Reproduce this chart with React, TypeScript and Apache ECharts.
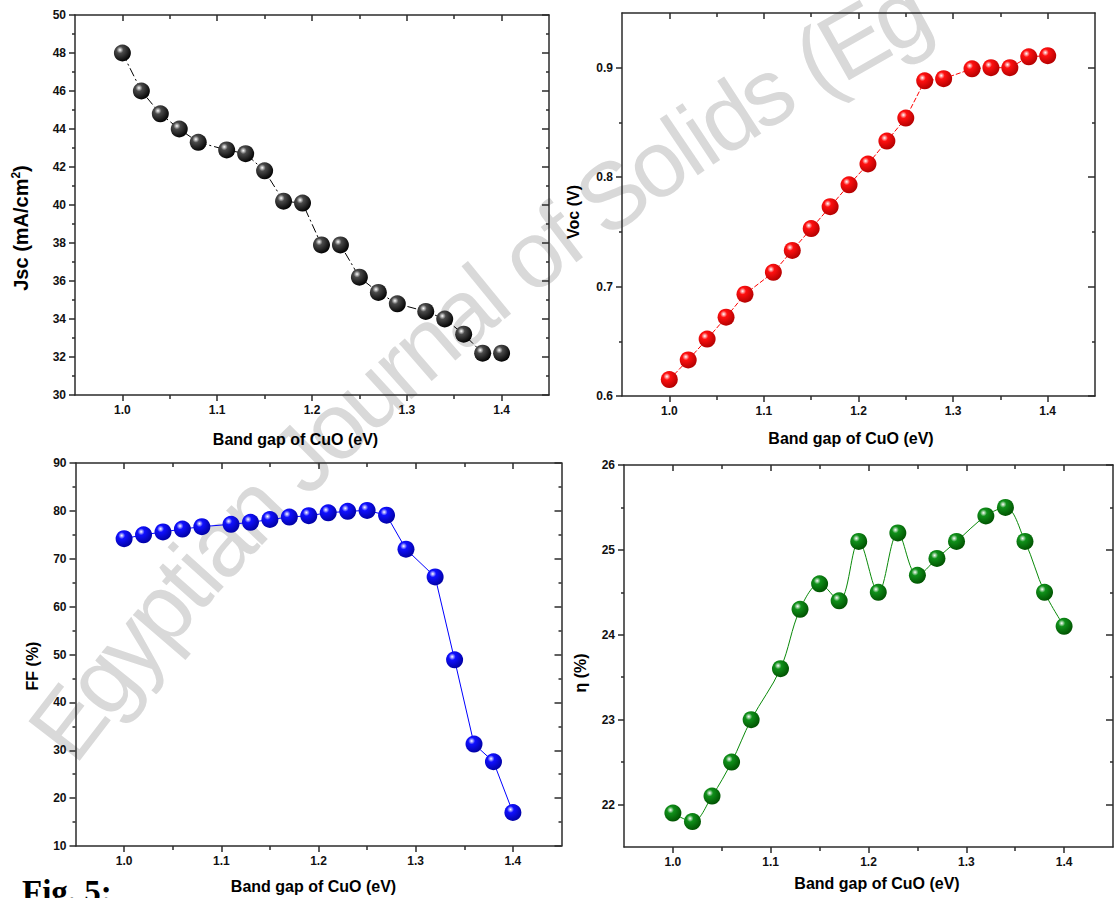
import React, { useEffect, useRef } from "react";
import * as echarts from "echarts";

// ---- data ----
const BAND_GAP = [1.0, 1.02, 1.04, 1.06, 1.08, 1.11, 1.13, 1.15, 1.17, 1.19, 1.21, 1.23, 1.25, 1.27, 1.29, 1.32, 1.34, 1.36, 1.38, 1.4];
const JSC = [48.0, 46.0, 44.8, 44.0, 43.3, 42.9, 42.7, 41.8, 40.2, 40.1, 37.9, 37.9, 36.2, 35.4, 34.8, 34.4, 34.0, 33.2, 32.2, 32.2];
const VOC = [0.615, 0.633, 0.652, 0.672, 0.693, 0.713, 0.733, 0.753, 0.773, 0.793, 0.812, 0.833, 0.854, 0.888, 0.89, 0.899, 0.9, 0.9, 0.91, 0.911];
const FF = [74.2, 75.0, 75.6, 76.2, 76.7, 77.2, 77.6, 78.2, 78.7, 79.0, 79.6, 79.9, 80.1, 79.1, 72.0, 66.2, 48.9, 31.3, 27.6, 17.0];
const ETA = [21.9, 21.8, 22.1, 22.5, 23.0, 23.6, 24.3, 24.6, 24.4, 25.1, 24.5, 25.2, 24.7, 24.9, 25.1, 25.4, 25.5, 25.1, 24.5, 24.1];

const X_MAJOR = [1.0, 1.1, 1.2, 1.3, 1.4];
const X_MINOR = [1.05, 1.15, 1.25, 1.35];
const JSC_MAJOR = [30, 32, 34, 36, 38, 40, 42, 44, 46, 48, 50];
const JSC_MINOR = [31, 33, 35, 37, 39, 41, 43, 45, 47, 49];
const VOC_MAJOR = [0.6, 0.7, 0.8, 0.9];
const VOC_MINOR = [0.65, 0.75, 0.85];
const FF_MAJOR = [10, 20, 30, 40, 50, 60, 70, 80, 90];
const FF_MINOR = [15, 25, 35, 45, 55, 65, 75, 85];
const ETA_MAJOR = [22, 23, 24, 25, 26];
const ETA_MINOR = [22.5, 23.5, 24.5, 25.5];

const X_NAME = "Band gap of CuO (eV)";
const WATERMARK = "Egyptian Journal of Solids (Eg";
const FIG_LABEL = "Fig. 5:";

const FONT = "'Liberation Sans', Arial, Helvetica, sans-serif";
const AXIS_COLOR = "#2b2b2b";

type Panel = {
  grid: { left: number; top: number; width: number; height: number };
  yMin: number; yMax: number;
  yMajor: number[]; yMinor: number[];
  yFmt: (v: number) => string;
  yName: string; yNameSize: number; yNameGap: number; yNamePad: number[];
  xNameGap: number; xNamePad: number[];
  values: number[];
  lineColor: string;
  stops: string[];
  lineType: any;
  smooth: number | boolean;
};

const panels: Panel[] = [
  {
    grid: { left: 75, top: 15, width: 474, height: 380 },
    yMin: 30, yMax: 50, yMajor: JSC_MAJOR, yMinor: JSC_MINOR, yFmt: (v) => String(Math.round(v)),
    yName: "Jsc (mA/cm{sup|2})", yNameSize: 20, yNameGap: 43, yNamePad: [0, 46, 0, 0],
    xNameGap: 36, xNamePad: [0, 33, 0, 0],
    values: JSC, lineColor: "#000", stops: ["#ffffff", "#4a4a4a", "#000000"], lineType: [9, 3, 2, 3], smooth: false,
  },
  {
    grid: { left: 622, top: 13, width: 473, height: 383 },
    yMin: 0.6, yMax: 0.95, yMajor: VOC_MAJOR, yMinor: VOC_MINOR, yFmt: (v) => v.toFixed(1),
    yName: "Voc (V)", yNameSize: 16, yNameGap: 41, yNamePad: [0, 15, 0, 0],
    xNameGap: 34, xNamePad: [0, 15, 0, 0],
    values: VOC, lineColor: "#ff0000", stops: ["#ffffff", "#ff1010", "#b00000"], lineType: [5, 2], smooth: false,
  },
  {
    grid: { left: 75.5, top: 463, width: 486, height: 383 },
    yMin: 10, yMax: 90, yMajor: FF_MAJOR, yMinor: FF_MINOR, yFmt: (v) => String(Math.round(v)),
    yName: "FF (%)", yNameSize: 16, yNameGap: 35, yNamePad: [0, 23, 0, 0],
    xNameGap: 32, xNamePad: [0, 10, 0, 0],
    values: FF, lineColor: "#0000ff", stops: ["#ffffff", "#1010ff", "#0000a0"], lineType: "solid", smooth: false,
  },
  {
    grid: { left: 624, top: 465, width: 489, height: 382 },
    yMin: 21.5, yMax: 26, yMajor: ETA_MAJOR, yMinor: ETA_MINOR, yFmt: (v) => String(Math.round(v)),
    yName: "η (%)", yNameSize: 16, yNameGap: 36, yNamePad: [0, 34, 0, 0],
    xNameGap: 28, xNamePad: [0, 0, 0, 17],
    values: ETA, lineColor: "#0a8a0a", stops: ["#ffffff", "#10901a", "#005000"], lineType: "solid", smooth: 0.35,
  },
];

const lineStyle = { color: AXIS_COLOR, width: 1.5 };

function buildAxes(p: Panel, gi: number) {
  const xAxes: any[] = [];
  const yAxes: any[] = [];
  const xBase = { gridIndex: gi, type: "value", min: 0.95, max: 1.45, splitLine: { show: false } };
  const yBase = { gridIndex: gi, type: "value", min: p.yMin, max: p.yMax, splitLine: { show: false } };
  xAxes.push({
    ...xBase, position: "bottom",
    axisLine: { show: true, onZero: false, lineStyle },
    axisTick: { show: true, inside: false, length: 6, customValues: X_MAJOR, lineStyle },
    axisLabel: { show: true, customValues: X_MAJOR, formatter: (v: number) => v.toFixed(1), margin: 9, fontSize: 12, fontWeight: "bold", color: "#111", fontFamily: FONT },
    name: X_NAME, nameLocation: "middle", nameGap: p.xNameGap,
    nameTextStyle: { fontSize: 16, fontWeight: "bold", color: "#000", fontFamily: FONT, padding: p.xNamePad },
  });
  xAxes.push({
    ...xBase, position: "bottom",
    axisLine: { show: false, onZero: false },
    axisTick: { show: true, inside: false, length: 4, customValues: X_MINOR, lineStyle },
    axisLabel: { show: false },
  });
  xAxes.push({
    ...xBase, position: "top",
    axisLine: { show: true, onZero: false, lineStyle },
    axisTick: { show: true, inside: true, length: 6, customValues: X_MAJOR, lineStyle },
    axisLabel: { show: false },
  });
  xAxes.push({
    ...xBase, position: "top",
    axisLine: { show: false, onZero: false },
    axisTick: { show: true, inside: true, length: 4, customValues: X_MINOR, lineStyle },
    axisLabel: { show: false },
  });
  yAxes.push({
    ...yBase, position: "left",
    axisLine: { show: true, onZero: false, lineStyle },
    axisTick: { show: true, inside: false, length: 6, customValues: p.yMajor, lineStyle },
    axisLabel: { show: true, customValues: p.yMajor, formatter: p.yFmt, margin: 9, fontSize: 12, fontWeight: "bold", color: "#111", fontFamily: FONT },
    name: p.yName, nameLocation: "middle", nameGap: p.yNameGap,
    nameTextStyle: {
      fontSize: p.yNameSize, fontWeight: "bold", color: "#000", fontFamily: FONT, padding: p.yNamePad,
      rich: { sup: { fontSize: 12, fontWeight: "bold", color: "#000", fontFamily: FONT, verticalAlign: "top", padding: [0, 0, 10, 0] } },
    },
  });
  yAxes.push({
    ...yBase, position: "left",
    axisLine: { show: false, onZero: false },
    axisTick: { show: true, inside: false, length: 3, customValues: p.yMinor, lineStyle },
    axisLabel: { show: false },
  });
  yAxes.push({
    ...yBase, position: "right",
    axisLine: { show: true, onZero: false, lineStyle },
    axisTick: { show: true, inside: true, length: 7, customValues: p.yMajor, lineStyle },
    axisLabel: { show: false },
  });
  yAxes.push({
    ...yBase, position: "right",
    axisLine: { show: false, onZero: false },
    axisTick: { show: true, inside: true, length: 3, customValues: p.yMinor, lineStyle },
    axisLabel: { show: false },
  });
  return { xAxes, yAxes };
}

// rough Arial advance widths (em) for laying the watermark along its arc
const ADV: Record<string, number> = {
  E: 0.667, g: 0.556, y: 0.5, p: 0.556, t: 0.278, i: 0.222, a: 0.556, n: 0.556, " ": 0.278,
  J: 0.5, o: 0.556, u: 0.556, r: 0.333, l: 0.222, f: 0.278, S: 0.667, d: 0.556, s: 0.5, "(": 0.333,
};

function buildWatermark() {
  const size = 94;
  const spacing = 86;
  const x0 = 51, y0 = 745;
  const th0 = (53 * Math.PI) / 180;
  const k = 3.8e-4;
  const els: any[] = [];
  let s = 0;
  for (const ch of WATERMARK) {
    const w = (ADV[ch] ?? 0.55) * spacing;
    const sc = s + w / 2;
    const th = th0 - k * sc;
    const x = x0 + (Math.sin(th0) - Math.sin(th)) / k;
    const y = y0 - (Math.cos(th) - Math.cos(th0)) / k;
    if (ch !== " ") {
      els.push({
        type: "text", x, y, rotation: th, z: 0, silent: true,
        style: { text: ch, fontSize: size, fontFamily: FONT, fill: "#d9d9d9", align: "center", verticalAlign: "middle" },
      });
    }
    s += w;
  }
  return els;
}

export default function App() {
  const ref = useRef<HTMLDivElement>(null);
  useEffect(() => {
    if (!ref.current) return;
    const chart = echarts.init(ref.current, undefined, { renderer: "svg" });
    const grids: any[] = [];
    let xAxis: any[] = [];
    let yAxis: any[] = [];
    const series: any[] = [];
    panels.forEach((p, gi) => {
      grids.push({ ...p.grid, containLabel: false, outerBoundsMode: "none" });
      const { xAxes, yAxes } = buildAxes(p, gi);
      const xi = xAxis.length;
      const yi = yAxis.length;
      xAxis = xAxis.concat(xAxes);
      yAxis = yAxis.concat(yAxes);
      series.push({
        type: "line",
        xAxisIndex: xi,
        yAxisIndex: yi,
        data: BAND_GAP.map((x, i) => [x, p.values[i]]),
        symbol: "circle",
        symbolSize: 17,
        showSymbol: true,
        smooth: p.smooth,
        z: 5,
        lineStyle: { color: p.lineColor, width: 1, type: p.lineType },
        itemStyle: {
          color: {
            type: "radial", x: 0.36, y: 0.32, r: 0.72,
            colorStops: [
              { offset: 0, color: p.stops[0] },
              { offset: 0.28, color: p.stops[1] },
              { offset: 1, color: p.stops[2] },
            ],
          },
          borderWidth: 0,
        },
        emphasis: { disabled: true },
      });
    });
    chart.setOption({
      animation: false,
      backgroundColor: "#ffffff",
      grid: grids,
      xAxis,
      yAxis,
      series,
      graphic: [
        ...buildWatermark(),
        {
          type: "text", left: 22, top: 875, z: 10,
          style: { text: FIG_LABEL, fontSize: 33, fontWeight: "bold", fontFamily: "'Liberation Serif', 'Times New Roman', serif", fill: "#000" },
        },
      ],
    });
    return () => chart.dispose();
  }, []);
  return <div ref={ref} style={{ position: "fixed", left: 0, top: 0, width: 1114, height: 898, background: "#fff" }} />;
}
